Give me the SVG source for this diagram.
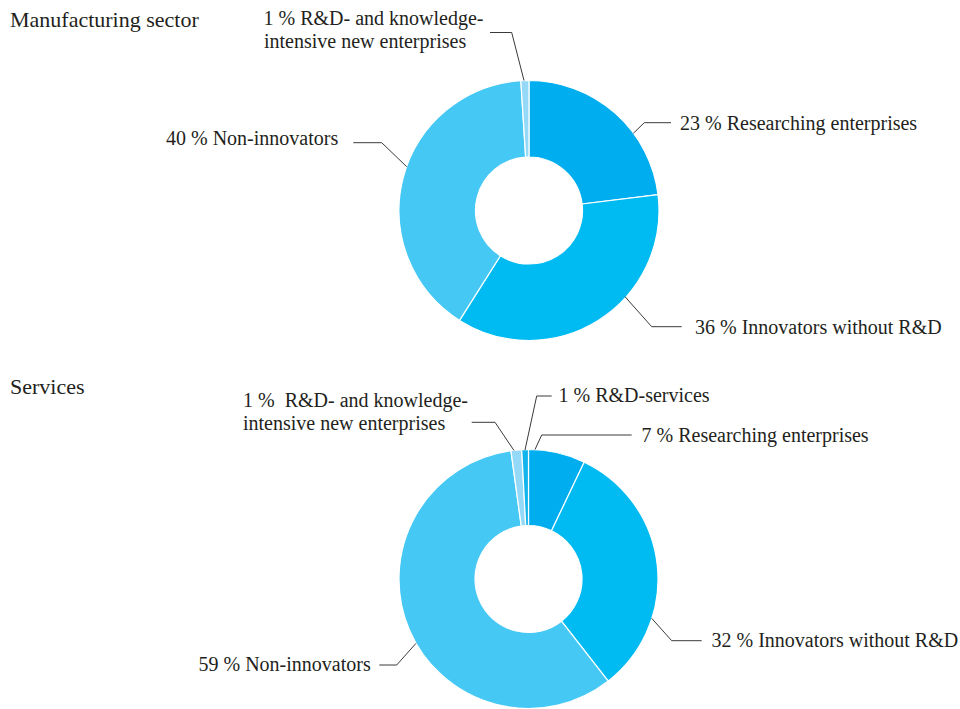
<svg xmlns="http://www.w3.org/2000/svg" width="960" height="709" viewBox="0 0 960 709">
<style>
text{font-family:"Liberation Serif","Times New Roman",serif;font-size:20px;fill:#231f20;white-space:pre}
.title{font-size:22px}
.seg{stroke:#ffffff;stroke-width:1.2;stroke-linejoin:miter}
.c1{fill:#00aeef}
.c2{fill:#00baf2}
.c3{fill:#46c8f5}
.c4{fill:#94daf8}
.c5{fill:#12b4ee}
.lead{fill:none;stroke:#3a3a3a;stroke-width:1}
</style>
<rect width="960" height="709" fill="#ffffff"/>
<text class="title" x="10" y="27">Manufacturing sector</text>
<text class="title" x="10" y="394">Services</text>

<g id="manufacturing-donut">
<g id="m-researching"><path class="seg c1" d="M529,80.5 A130,130 0 0 1 658.03,194.66 L582.10,203.98 A53.5,53.5 0 0 0 529,157 Z"/></g>
<g id="m-innovators"><path class="seg c2" d="M658.03,194.66 A130,130 0 0 1 459.53,320.39 L500.41,255.72 A53.5,53.5 0 0 0 582.10,203.98 Z"/></g>
<g id="m-noninnovators"><path class="seg c3" d="M459.53,320.39 A130,130 0 0 1 520.84,80.76 L525.64,157.11 A53.5,53.5 0 0 0 500.41,255.72 Z"/></g>
<g id="m-newenterprises"><path class="seg c4" d="M520.84,80.76 A130,130 0 0 1 529,80.5 L529,157 A53.5,53.5 0 0 0 525.64,157.11 Z"/></g>
</g>

<g id="services-donut">
<g id="s-researching"><path class="seg c1" d="M528.5,449.5 A129.5,129.5 0 0 1 584.25,462.11 L551.53,530.71 A53.5,53.5 0 0 0 528.5,525.5 Z"/></g>
<g id="s-innovators"><path class="seg c2" d="M584.25,462.11 A129.5,129.5 0 0 1 608.23,681.05 L561.44,621.16 A53.5,53.5 0 0 0 551.53,530.71 Z"/></g>
<g id="s-noninnovators"><path class="seg c3" d="M608.23,681.05 A129.5,129.5 0 1 1 510.93,450.70 L521.24,525.99 A53.5,53.5 0 1 0 561.44,621.16 Z"/></g>
<g id="s-newenterprises"><path class="seg c4" d="M510.93,450.70 A129.5,129.5 0 0 1 521.72,449.68 L525.70,525.57 A53.5,53.5 0 0 0 521.24,525.99 Z"/></g>
<g id="s-rdservices"><path class="seg c5" d="M521.72,449.68 A129.5,129.5 0 0 1 528.5,449.5 L528.5,525.5 A53.5,53.5 0 0 0 525.70,525.57 Z"/></g>
</g>

<g id="connectors">
<polyline class="lead" points="490,32.5 511.7,32.5 524,80.5"/>
<polyline class="lead" points="671,122.7 644.3,122.7 633.3,133.3"/>
<polyline class="lead" points="681.7,326.7 651.7,326.7 625,296.7"/>
<polyline class="lead" points="353.3,142.7 381.7,142.7 406.7,166.7"/>
<polyline class="lead" points="471.7,422.3 495,422.3 514,450.5"/>
<polyline class="lead" points="551.7,396 536.7,396 525,450"/>
<polyline class="lead" points="631.7,435 541.7,435 535,449.5"/>
<polyline class="lead" points="701.7,640.7 671.7,640.7 651.7,618.3"/>
<polyline class="lead" points="379.3,665 396.7,665 416,643.3"/>
</g>

<g id="labels">
<text x="263.5" y="25">1 % R&amp;D- and knowledge-</text>
<text x="264" y="48">intensive new enterprises</text>
<text x="680" y="130">23 % Researching enterprises</text>
<text x="695" y="333.5">36 % Innovators without R&amp;D</text>
<text x="166" y="145">40 % Non-innovators</text>
<text x="243" y="407">1 %  R&amp;D- and knowledge-</text>
<text x="243" y="430">intensive new enterprises</text>
<text x="558.5" y="401.5">1 % R&amp;D-services</text>
<text x="641.5" y="442">7 % Researching enterprises</text>
<text x="711.5" y="647">32 % Innovators without R&amp;D</text>
<text x="198.5" y="671">59 % Non-innovators</text>
</g>
</svg>
